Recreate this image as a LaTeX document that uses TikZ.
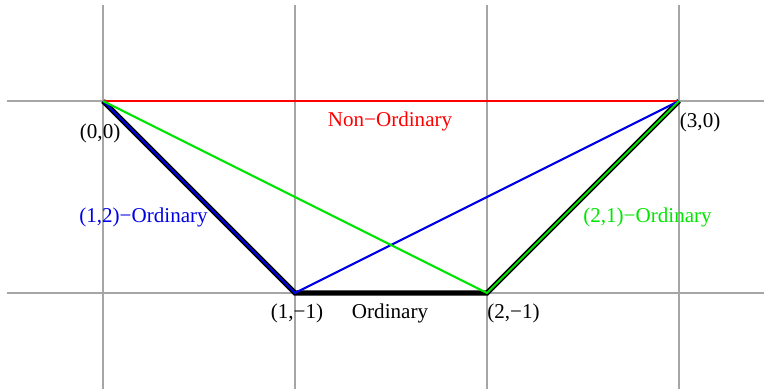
\documentclass[tikz,border=0pt]{standalone}
\usepackage{fontspec}
\setmainfont{Liberation Serif}
\usetikzlibrary{positioning}
\definecolor{pathRed}{RGB}{255,0,0}
\definecolor{pathBlue}{RGB}{0,0,230}
\definecolor{pathGreen}{RGB}{0,230,0}
\tikzset{
    lattice/.style={x=3.2cm, y=3.2cm, line cap=butt, line join=miter,
                    font=\normalsize},
    gridline/.style={draw=black!35, line width=0.7pt},
    ordpath/.style={draw=black, line width=2.4pt},
    redpath/.style={draw=pathRed, line width=1.4pt},
    bluepath/.style={draw=pathBlue, line width=1pt},
    greenpath/.style={draw=pathGreen, line width=1pt},
    ptlabel/.style={inner sep=1pt},
}

\begin{document}
\begin{tikzpicture}[lattice]
\useasboundingbox (-0.5365,-1.5) rectangle (3.4427,0.526);

% ─── Grille ─────────────────────────────────────────────────────────────
\foreach \x in {0,...,3}{
    \draw[gridline] (\x,0.5) -- (\x,-1.5);
}
\foreach \y in {0,-1}{
    \draw[gridline] (-0.5,\y) -- (3.5,\y);
}

% ─── Points ─────────────────────────────────────────────────────────────
\coordinate (p00) at (0,0);
\coordinate (p1m) at (1,-1);
\coordinate (p2m) at (2,-1);
\coordinate (p30) at (3,0);

% ─── Chemins ────────────────────────────────────────────────────────────
% Ordinary (noir, en dessous)
\draw[ordpath] (p00) -- (p1m) -- (p2m) -- (p30);
% Non-Ordinary
\draw[redpath] (p00) -- (p30);
% (1,2)-Ordinary
\draw[bluepath] (p00) -- (p1m) -- (p30);
% (2,1)-Ordinary
\draw[greenpath] (p00) -- (p2m) -- (p30);

% ─── Labels ─────────────────────────────────────────────────────────────
\node[ptlabel] (l00) at (-0.015,-0.168) {(0,0)};
\node[ptlabel] (l1m) at (1.01,-1.104)   {(1,−1)};
\node[ptlabel] (l2m) at (2.138,-1.104)  {(2,−1)};
\node[ptlabel] (l30) at (3.11,-0.114)   {(3,0)};

\node[ptlabel] (ordl)  at (1.495,-1.104) {Ordinary};
\node[ptlabel, text=pathRed]   (nonl) at (1.495,-0.104) {Non−Ordinary};
\node[ptlabel, text=pathBlue]  (onel) at (0.211,-0.607) {(1,2)−Ordinary};
\node[ptlabel, text=pathGreen] (twol) at (2.836,-0.607) {(2,1)−Ordinary};

\end{tikzpicture}
\end{document}
